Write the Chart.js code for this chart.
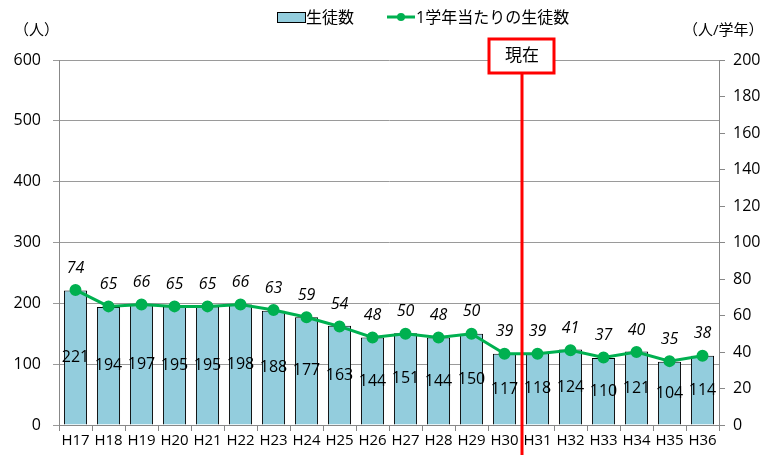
<!DOCTYPE html>
<html>
<head>
<meta charset="utf-8">
<script src="https://cdn.jsdelivr.net/npm/chart.js@4/dist/chart.umd.min.js"></script>
<style>
  html, body { margin: 0; padding: 0; background: #fff; }
  #wrap { width: 769px; height: 455px; }
</style>
</head>
<body>
<div id="wrap"><canvas id="chart" width="769" height="455"></canvas></div>
<script>
// data
const years = ["H17","H18","H19","H20","H21","H22","H23","H24","H25","H26","H27","H28","H29","H30","H31","H32","H33","H34","H35","H36"];
const students = [221,194,197,195,195,198,188,177,163,144,151,144,150,117,118,124,110,121,104,114];
const perGrade = [74,65,66,65,65,66,63,59,54,48,50,48,50,39,39,41,37,40,35,38];
const leftTicks = [0,100,200,300,400,500,600];
const rightTicks = [0,20,40,60,80,100,120,140,160,180,200];
const nowAfter = "H30";

const JP = "'Open Sans', 'Noto Sans CJK JP', sans-serif";
const barColor = "#93CDDD";
const lineColor = "#00B050";

// labels, legend, "現在" marker
const overlay = {
  id: "overlay",
  afterDatasetsDraw(chart) {
    const ctx = chart.ctx;
    ctx.save();
    ctx.textAlign = "center";
    ctx.textBaseline = "middle";
    ctx.fillStyle = "#000";

    // bar values, centred in the bar
    ctx.font = "16px " + JP;
    chart.getDatasetMeta(0).data.forEach((bar, i) => {
      ctx.fillText(String(students[i]), bar.x, (bar.y + bar.base) / 2);
    });
    // per grade values, above the point
    ctx.font = "italic 16px " + JP;
    chart.getDatasetMeta(1).data.forEach((pt, i) => {
      ctx.fillText(String(perGrade[i]), pt.x, pt.y - 22);
    });

    // red line between H30 and H31
    const x = chart.scales.x;
    const i = years.indexOf(nowAfter);
    const lx = (x.getPixelForValue(i) + x.getPixelForValue(i + 1)) / 2 + 1;
    ctx.strokeStyle = "#FF0000";
    ctx.lineWidth = 3;
    ctx.beginPath();
    ctx.moveTo(lx, 72);
    ctx.lineTo(lx, 455);
    ctx.stroke();
    ctx.fillStyle = "#fff";
    ctx.fillRect(lx - 33, 39, 65, 34);
    ctx.strokeRect(lx - 33, 39, 65, 34);
    ctx.fillStyle = "#000";
    ctx.font = "17px " + JP;
    ctx.fillText("現在", lx, 56);

    // legend
    ctx.font = "16px " + JP;
    ctx.textAlign = "left";
    ctx.fillStyle = barColor;
    ctx.fillRect(277, 12, 28, 10);
    ctx.strokeStyle = "#000";
    ctx.lineWidth = 1;
    ctx.strokeRect(277.5, 12.5, 28, 10);
    ctx.fillStyle = "#000";
    ctx.fillText("生徒数", 306, 18);
    ctx.strokeStyle = lineColor;
    ctx.lineWidth = 3;
    ctx.beginPath();
    ctx.moveTo(387, 17);
    ctx.lineTo(415, 17);
    ctx.stroke();
    ctx.fillStyle = lineColor;
    ctx.beginPath();
    ctx.arc(401, 17, 4, 0, Math.PI * 2);
    ctx.fill();
    ctx.fillStyle = "#000";
    ctx.fillText("1学年当たりの生徒数", 416, 18);

    // unit labels
    ctx.font = "15px " + JP;
    ctx.fillText("（人）", 14, 31);
    ctx.fillText("（人/学年）", 683, 31);
    ctx.restore();
  }
};

new Chart(document.getElementById("chart"), {
  type: "bar",
  data: {
    labels: years,
    datasets: [
      {
        type: "bar",
        data: students,
        backgroundColor: barColor,
        borderColor: "#000",
        borderWidth: 1,
        barPercentage: 0.7,
        categoryPercentage: 1,
        yAxisID: "y",
        order: 2
      },
      {
        type: "line",
        data: perGrade,
        borderColor: lineColor,
        backgroundColor: lineColor,
        borderWidth: 3,
        pointRadius: 4.5,
        tension: 0,
        yAxisID: "y2",
        order: 1
      }
    ]
  },
  options: {
    responsive: false,
    animation: false,
    layout: { padding: { top: 60, bottom: 0, left: 0, right: 0 } },
    plugins: { legend: { display: false }, tooltip: { enabled: false } },
    scales: {
      x: {
        offset: true,
        grid: { offset: true, drawOnChartArea: false, color: "#888", tickLength: 6 },
        border: { color: "#888" },
        ticks: { color: "#000", font: { size: 15, family: JP }, padding: 1, maxRotation: 0, autoSkip: false },
        afterFit(s) { s.height = 30; }
      },
      y: {
        position: "left",
        min: 0, max: 600,
        afterBuildTicks(s) { s.ticks = leftTicks.map(v => ({ value: v })); },
        grid: { color: "#9a9a9a", tickLength: 6 },
        border: { color: "#888" },
        ticks: { color: "#000", font: { size: 16, family: JP }, padding: 12 },
        afterFit(s) { s.width = 59; }
      },
      y2: {
        position: "right",
        min: 0, max: 200,
        afterBuildTicks(s) { s.ticks = rightTicks.map(v => ({ value: v })); },
        grid: { drawOnChartArea: false, color: "#888", tickLength: 6 },
        border: { color: "#888" },
        ticks: { color: "#000", font: { size: 16, family: JP }, padding: 8 },
        afterFit(s) { s.width = 50; }
      }
    }
  },
  plugins: [overlay]
});
</script>
</body>
</html>
